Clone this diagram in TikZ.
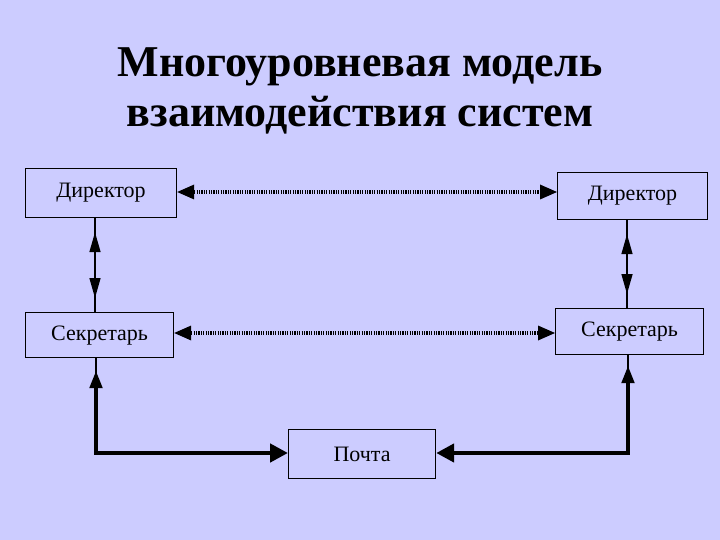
\documentclass[tikz,border=0pt]{standalone}
\usepackage{fontspec}
\setmainfont{Liberation Serif}
\usetikzlibrary{arrows.meta}
\definecolor{bg}{RGB}{204,204,255}
\begin{document}
\begin{tikzpicture}[x=1pt,y=-1pt,
  box/.style={draw=black,line width=1.2pt,fill=bg,inner sep=0pt,anchor=north west,font=\fontsize{22}{26}\selectfont},
  dotarrow/.style={line width=3.5pt,dash pattern=on 1.2pt off 1.2pt,{Triangle[length=17pt,width=15pt,line width=0pt]}-{Triangle[length=17pt,width=15pt,line width=0pt]}},
  thinline/.style={line width=1.5pt},
  vertarrow/.style={line width=1.5pt,{Triangle[length=20pt,width=11pt]}-{Triangle[length=20pt,width=11pt]},shorten <=14pt,shorten >=14pt},
  stubline/.style={line width=2pt},
  thickarrow/.style={line width=4.5pt,{Triangle[length=18pt,width=12pt]}-{Triangle[length=18pt,width=18pt]}},
  title/.style={font=\fontsize{44}{50}\selectfont\bfseries,align=center}
]
\fill[bg] (0,0) rectangle (720,540);
\useasboundingbox (0,0) rectangle (720,540);
\node[title] (t) at (360,91) {Многоуровневая модель\\взаимодействия систем};

\node[box,minimum width=151pt,minimum height=49pt] (dl) at (25,168) {Директор};
\node[box,minimum width=150pt,minimum height=47pt] (dr) at (557,172) {Директор};
\node[box,minimum width=148pt,minimum height=45pt] (sl) at (25,312) {Секретарь};
\node[box,minimum width=148pt,minimum height=46pt] (sr) at (555,308) {Секретарь};
\node[box,minimum width=147pt,minimum height=49pt] (p) at (288,429) {Почта};

\coordinate (c1) at (96,453);
\coordinate (c2) at (628,453);

\draw[dotarrow] (dl.east |- 0,192) -- (dr.west |- 0,192);
\draw[dotarrow] (sl.east |- 0,333) -- (sr.west |- 0,333);
\draw[thinline] (dl.south -| 95,0) -- (sl.north -| 95,0);
\draw[vertarrow] (dl.south -| 95,0) -- (sl.north -| 95,0);
\draw[thinline] (dr.south -| 627,0) -- (sr.north -| 627,0);
\draw[vertarrow] (dr.south -| 627,0) -- (sr.north -| 627,0);
\draw[stubline] (sl.south -| c1) -- ++(0,16);
\draw[thickarrow,shorten <=12pt] (sl.south -| c1) -- (c1) -- (p.west |- c1);
\draw[stubline] (sr.south -| c2) -- ++(0,14);
\draw[thickarrow,shorten <=10pt] (sr.south -| c2) -- (c2) -- (p.east |- c2);
\end{tikzpicture}
\end{document}
